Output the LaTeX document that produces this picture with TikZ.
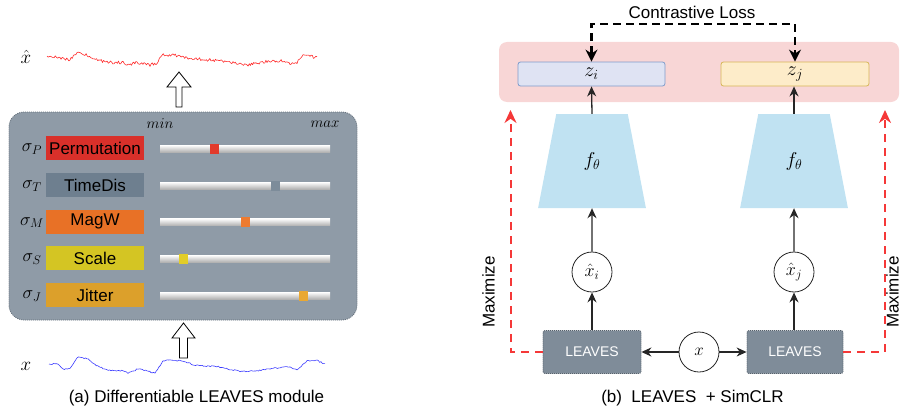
\documentclass[tikz,border=0pt]{standalone}
\usepackage{fix-cm}
\usepackage{fontspec}
\setmainfont{Liberation Sans}
\usetikzlibrary{shapes.geometric,arrows.meta,calc}
\definecolor{panelgray}{HTML}{8F9BA7}
\definecolor{panelborder}{HTML}{66717C}
\definecolor{cperm}{HTML}{D9302A}
\definecolor{ctime}{HTML}{6E7F8F}
\definecolor{cmag}{HTML}{E87126}
\definecolor{cscale}{HTML}{D4C523}
\definecolor{cjit}{HTML}{DCA02B}
\definecolor{hperm}{HTML}{E23A2B}
\definecolor{htime}{HTML}{7D8C9A}
\definecolor{hmag}{HTML}{EE7B30}
\definecolor{hscale}{HTML}{E2CD28}
\definecolor{hjit}{HTML}{E9A833}
\definecolor{pinkbg}{HTML}{F8D6D6}
\definecolor{zifill}{HTML}{DFE3F3}
\definecolor{ziborder}{HTML}{7F9CCB}
\definecolor{zjfill}{HTML}{FDECC9}
\definecolor{zjborder}{HTML}{D6B656}
\definecolor{trapblue}{HTML}{C0E2F2}
\definecolor{leavesgray}{HTML}{7F8C99}
\definecolor{leavesborder}{HTML}{56616C}
\definecolor{maxred}{HTML}{F53838}
\definecolor{sigred}{HTML}{FF2A2A}
\definecolor{sigblue}{HTML}{3A3AFF}
\tikzset{
  bigfont/.style={font=\fontsize{17}{20}\selectfont},
  plain/.style={bigfont, inner sep=0pt},
  mathL/.style={font=\fontsize{19}{23}\selectfont, inner sep=0pt},
  mathS/.style={font=\fontsize{15}{18}\selectfont, inner sep=0pt},
  mathR/.style={font=\fontsize{20}{24}\selectfont},
  augbox/.style={bigfont, minimum width=98pt, minimum height=24pt, inner sep=0pt},
  sliderbar/.style={top color=white, bottom color=black!30, minimum width=170pt, minimum height=7pt, inner sep=0pt},
  handle/.style={minimum width=9pt, minimum height=10pt, inner sep=0pt},
  hollow/.style={fill=white, draw=black, line width=0.8pt, line join=miter},
  panel/.style={fill=panelgray, draw=panelborder, dash pattern=on 1pt off 1pt, line width=0.8pt, rounded corners=15pt, minimum width=348pt, minimum height=208pt},
  zbox/.style={mathR, minimum width=147pt, minimum height=24pt, inner sep=0pt, rounded corners=2.5pt, line width=0.8pt},
  enc/.style={trapezium, trapezium stretches=true, trapezium left angle=76.4, trapezium right angle=76.4, minimum width=108pt, minimum height=94pt, fill=trapblue, inner sep=0pt, mathR},
  circ/.style={circle, draw=black!85, line width=0.8pt, fill=white, minimum size=40pt, inner sep=0pt, font=\fontsize{18}{22}\selectfont},
  leaves/.style={fill=leavesgray, draw=leavesborder, dash pattern=on 1pt off 1pt, line width=0.8pt, rounded corners=2pt, minimum width=98pt, minimum height=43pt, text=white, font=\fontsize{14}{16}\selectfont},
  arr/.style={draw=black!85, line width=1.3pt, -{Stealth[length=10pt,width=9pt]}},
  lossarr/.style={draw=black, line width=2.4pt, dash pattern=on 8pt off 5pt, {Stealth[length=12pt,width=12pt]}-{Stealth[length=12pt,width=12pt]}},
  maxarr/.style={draw=maxred, line width=2pt, dash pattern=on 8pt off 6pt, -{Stealth[length=13pt,width=12pt]}},
  signal/.style={line width=0.6pt, line join=round},
}
\begin{document}
\begin{tikzpicture}[x=1pt,y=-1pt]
\useasboundingbox (0,0) rectangle (901,412);

% ---------------- left panel ----------------
\node[mathL] (xhatlbl) at (26,57) {$\hat{x}$};
\pgfmathsetseed{4242}
\draw[signal, sigred] (47,56)
  \foreach \xa/\ya/\xb/\yb [evaluate=\xa as \nn using {int(max(2,(\xb-\xa)/1.1))}] in {47/56/60/58, 60/58/70/60, 70/60/77/52.5, 77/52.5/85/54, 85/54/93/58, 93/58/106/62.5, 106/62.5/123/62.5, 123/62.5/127/65.5, 127/65.5/137/62.5, 137/62.5/150/65, 150/65/157/63, 157/63/162/55, 162/55/173/55, 173/55/187/58, 187/58/203/59.5, 203/59.5/220/60.5, 220/60.5/233/63, 233/63/247/65, 247/65/267/61.5, 267/61.5/280/60.5, 280/60.5/290/64, 290/64/297/62.5, 297/62.5/302/55, 302/55/310/56, 310/56/317/58}
  { \foreach \k in {1,...,\nn} { -- ({\xa+\k/\nn*(\xb-\xa)},{\ya+\k/\nn*(\yb-\ya)+1.5*rand}) } };

\draw[hollow] (176,107) -- (176,87) -- (167,87) -- (179,72) -- (191,87) -- (182,87) -- (182,107) -- cycle;

\node[panel] (panel) at (183,216) {};
\node[mathS] (minlbl) at (160,124) {$min$};
\node[mathS] (maxlbl) at (325,124) {$max$};

\foreach \yy/\nm/\lab/\col/\hx/\hcol in {148/P/Permutation/cperm/214/hperm, 185/T/TimeDis/ctime/275.5/htime, 221.5/M/MagW/cmag/245/hmag, 258/S/Scale/cscale/183.5/hscale, 295/J/Jitter/cjit/303.5/hjit}{
  \node[plain, font=\fontsize{18}{22}\selectfont] (sig\nm) at (32,\yy+1) {$\sigma_{\nm}$};
  \node[augbox, fill=\col] (lab\nm) at (95,\yy) {\lab};
  \node[sliderbar] (bar\nm) at (245,\yy+0.5) {};
  \node[handle, fill=\hcol] (hd\nm) at (\hx,\yy+0.5) {};
}

\draw[hollow] (179.5,358) -- (179.5,338) -- (172,338) -- (183.5,323) -- (195,338) -- (187.5,338) -- (187.5,358) -- cycle;

\node[mathL] (xlbl) at (26,366) {$x$};
\pgfmathsetseed{777}
\draw[signal, sigblue] (49,364)
  \foreach \xa/\ya/\xb/\yb [evaluate=\xa as \nn using {int(max(2,(\xb-\xa)/1.3))}] in {49/364/58/364, 58/364/63/369, 63/369/70/369, 70/369/77/357.5, 77/357.5/87/358.5, 87/358.5/95/365, 95/365/107/370, 107/370/123/371, 123/371/128/373, 128/373/138/369, 138/369/147/371, 147/371/155/373, 155/373/163/361, 163/361/170/359.5, 170/359.5/183/361.5, 183/361.5/197/365.5, 197/365.5/217/366.5, 217/366.5/240/371.5, 240/371.5/253/371, 253/371/273/368.5, 273/368.5/287/366.5, 287/366.5/297/370, 297/370/307/361, 307/361/317/360.5, 317/360.5/325/364}
  { \foreach \k in {1,...,\nn} { -- ({\xa+\k/\nn*(\xb-\xa)},{\ya+\k/\nn*(\yb-\ya)+0.7*rand}) } };

\node[plain] (capA) at (196.5,398) {(a) Differentiable LEAVES module};

% ---------------- right panel ----------------
\node[fill=pinkbg, rounded corners=8pt, minimum width=400pt, minimum height=60pt, inner sep=0pt] (pink) at (699,72) {};
\node[zbox, fill=zifill, draw=ziborder] (zi) at (591.5,74) {$z_i$};
\node[zbox, fill=zjfill, draw=zjborder, minimum width=148pt] (zj) at (795,74) {$z_j$};
\node[plain] (loss) at (692,12) {Contrastive Loss};
\coordinate (losstop) at (692,24);
\draw[lossarr] (zi.north) |- (losstop) -| (zj.north);

\node[enc] (fL) at (592,161) {\raisebox{-3pt}{$f_\theta$}};
\node[enc] (fR) at (794,161) {\raisebox{-3pt}{$f_\theta$}};
\draw[arr] (fL.north) -- (zi.south);
\draw[arr] (fR.north) -- (fR.north |- zj.south);

\node[circ] (xi) at (592,272) {$\hat{x}_i$};
\node[circ] (xj) at (794,272) {$\hat{x}_j$};
\draw[arr] (xi.north) -- (fL.south);
\draw[arr] (xj.north) -- (fR.south);

\node[leaves] (LL) at (592,352) {LEAVES};
\node[leaves, minimum width=96pt] (LR) at (795,352) {LEAVES};
\node[circ, font=\fontsize{17}{20}\selectfont] (xc) at (699,352) {$x$};
\draw[arr] (LL.north) -- (xi.south);
\draw[arr] (LR.north -| xj) -- (xj.south);
\draw[arr] (xc.west) -- (LL.east);
\draw[arr] (xc.east) -- (LR.west);

\coordinate (mtL) at (510.5,110);
\coordinate (mtR) at (885,110);
\draw[maxarr] (LL.west) -| (mtL);
\draw[maxarr] (LR.east) -| (mtR);
\node[plain, rotate=90] (maxL) at (488.5,292) {Maximize};
\node[plain, rotate=90] (maxR) at (892.5,292) {Maximize};

\node[plain] (capB) at (692.5,398) {(b)\ \ LEAVES\ \ + SimCLR};
\end{tikzpicture}
\end{document}
